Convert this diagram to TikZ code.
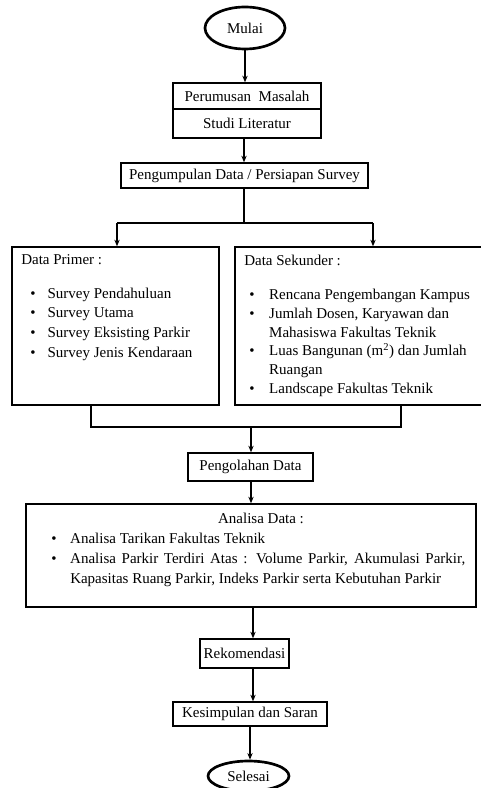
\documentclass[tikz,border=0pt]{standalone}
\usepackage{fontspec}
\setmainfont{Liberation Serif}
\usetikzlibrary{shapes.geometric,arrows.meta,calc}
\begin{document}
\begin{tikzpicture}[x=0.75pt,y=-0.75pt,
  every node/.style={font=\fontsize{11.25pt}{14.8pt}\selectfont, inner sep=0pt},
  box/.style={draw, line width=1pt, rectangle},
  term/.style={draw, line width=2pt, ellipse},
  arr/.style={line width=1pt, -{Stealth[length=5pt,width=4pt]}},
  conn/.style={line width=1pt},
  txt/.style={inner sep=0pt, align=left}]
\useasboundingbox (0,0) rectangle (480,788);
\fill[white] (0,0) rectangle (480,788);
% nodes
\node[term, minimum width=60pt, minimum height=31.5pt] (mulai) at (245,28) {Mulai};
\node[box, minimum width=111pt, minimum height=19.5pt] (per1) at (247,96) {Perumusan\ \ Masalah};
\node[box, minimum width=111pt, minimum height=21.75pt] (per2) at (247,123.5) {Studi Literatur};
\node[box, minimum width=185.25pt, minimum height=18.75pt] (peng) at (244.5,175.5) {Pengumpulan Data / Persiapan Survey};
\node[box, minimum width=155.25pt, minimum height=118.5pt] (primer) at (115.5,326) {};
\node[box, minimum width=185.25pt, minimum height=118.5pt] (sekunder) at (358.5,326) {};
\node[box, minimum width=93.75pt, minimum height=21pt] (olah) at (250.5,467) {Pengolahan Data};
\node[box, minimum width=337.5pt, minimum height=77.25pt] (analisa) at (251,555.5) {};
\node[box, minimum width=66.75pt, minimum height=21.75pt] (rekom) at (244.5,653.5) {Rekomendasi};
\node[box, minimum width=115.5pt, minimum height=18pt] (kesimp) at (250,714) {Kesimpulan dan Saran};
\node[term, minimum width=60.75pt, minimum height=22.5pt] (selesai) at (248.5,776) {Selesai};
% texts inside boxes
\node[txt, anchor=west] (ph) at (21,260) {Data Primer :};
\node[txt, anchor=north west] (pl) at (30,284) {\begin{tabular}{@{}l@{\hspace{9pt}}l@{}}
\textbullet & Survey Pendahuluan\\
\textbullet & Survey Utama\\
\textbullet & Survey Eksisting Parkir\\
\textbullet & Survey Jenis Kendaraan
\end{tabular}};
\node[txt, anchor=west] (sh) at (244,260) {Data Sekunder :};
\node[txt, anchor=north west, font=\fontsize{11.25pt}{14.1pt}\selectfont] (sl) at (249,286) {\begin{tabular}{@{}l@{\hspace{11pt}}l@{}}
\textbullet & Rencana Pengembangan Kampus\\
\textbullet & Jumlah Dosen, Karyawan dan\\
 & Mahasiswa Fakultas Teknik\\
\textbullet & Luas Bangunan (m\textsuperscript{2}) dan Jumlah\\
 & Ruangan\\
\textbullet & Landscape Fakultas Teknik
\end{tabular}};
\node[txt] (ah) at (261,518) {Analisa Data :};
\node[txt, anchor=north west, font=\fontsize{11.25pt}{15pt}\selectfont] (al) at (51,529) {\begin{tabular}{@{}l@{\hspace{10.3pt}}l@{}}
\textbullet & Analisa Tarikan Fakultas Teknik\\
\textbullet & \makebox[296.25pt][s]{Analisa Parkir Terdiri Atas : Volume Parkir, Akumulasi Parkir,}\\
 & Kapasitas Ruang Parkir, Indeks Parkir serta Kebutuhan Parkir
\end{tabular}};
% connectors
\draw[arr] (mulai.south) -- (mulai.south |- per1.north);
\coordinate (a1) at (244,138);
\draw[arr] (a1 |- per2.south) -- (a1 |- peng.north);
\coordinate (pL) at (117,223);
\coordinate (pM) at (244,223);
\coordinate (pR) at (373,223);
\draw[conn] (pM |- peng.south) -- (pM);
\draw[conn] (pL) -- (pR);
\draw[arr] (pL) -- (pL |- primer.north);
\draw[arr] (pR) -- (pR |- sekunder.north);
\coordinate (jL) at (91,427);
\coordinate (jR) at (401,427);
\coordinate (jM) at (251,427);
\draw[conn] (jL |- primer.south) -- (jL) -- (jR) -- (jR |- sekunder.south);
\draw[arr] (jM) -- (jM |- olah.north);
\coordinate (a4) at (251,481);
\draw[arr] (a4 |- olah.south) -- (a4 |- analisa.north);
\coordinate (a2) at (253,607);
\draw[arr] (a2 |- analisa.south) -- (a2 |- rekom.north);
\coordinate (a3) at (253,668);
\draw[arr] (a3 |- rekom.south) -- (a3 |- kesimp.north);
\draw[arr] (kesimp.south) -- (kesimp.south |- selesai.north);
\end{tikzpicture}
\end{document}
